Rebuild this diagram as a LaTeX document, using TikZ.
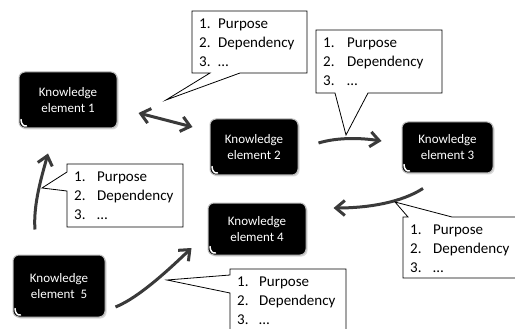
\documentclass[tikz,border=0pt]{standalone}
\usepackage{fontspec}
\setmainfont{Carlito}
\usetikzlibrary{arrows.meta,shadows}
\definecolor{arrowgray}{HTML}{3A3A3A}
\newcommand\plist[1]{\fontsize{15}{19}\selectfont\begin{tabular}[t]{@{}l@{}}\makebox[#1][l]{1.}Purpose\\\makebox[#1][l]{2.}Dependency\\\makebox[#1][l]{3.}…\end{tabular}}
\begin{document}
\begin{tikzpicture}[x=1pt,y=-1pt,
  kebox/.style={draw=gray!55, line width=1pt, fill=black, rounded corners=6pt,
    text=white, align=center, font=\fontsize{13}{16}\selectfont, inner sep=0pt,
    drop shadow={shadow xshift=1.5pt, shadow yshift=-1.5pt, opacity=0.3}},
  callout/.style={draw=black, line width=0.8pt, fill=white, line join=miter},
  ctext/.style={anchor=base west, inner sep=0pt},
  barb/.tip={Straight Barb[length=9pt,width=15pt]},
  conn/.style={draw=arrowgray, line width=3pt, -barb},
  gloss/.style={draw=white, line width=1.5pt, line cap=round},
]
\useasboundingbox (0,0) rectangle (515,329);
\clip (0,0) rectangle (515,329);
\fill[white] (0,0) rectangle (515,329);

% knowledge elements
\node[kebox, minimum width=98pt, minimum height=56pt] (ke1) at (68,100) {Knowledge\\element 1};
\node[kebox, minimum width=88pt, minimum height=56pt] (ke2) at (254,147) {Knowledge\\element 2};
\node[kebox, minimum width=91pt, minimum height=51pt] (ke3) at (447.5,147.5) {Knowledge\\element 3};
\node[kebox, minimum width=98pt, minimum height=52pt] (ke4) at (257,229) {Knowledge\\element 4};
\node[kebox, minimum width=92pt, minimum height=62pt] (ke5) at (59,286) {Knowledge\\element\ \ 5};
\foreach \n in {ke1,ke2,ke3,ke4,ke5}
  \draw[gloss] ([shift={(2.5,-9)}]\n.south west) .. controls +(0,4) and +(-3,1) .. ([shift={(8,-2.5)}]\n.south west);

% connectors
\draw[conn, barb-barb] ([shift={(21,13)}]ke1.east) -- ([shift={(-17,-20)}]ke2.west);
\draw[conn] ([shift={(20,-4)}]ke2.east) .. controls +(20,-6) and +(-20,-3) .. ([shift={(-20,-6.5)}]ke3.west);
\draw[conn] ([shift={(-24.5,15)}]ke3.south) .. controls +(-22,14) and +(35,0) .. ([shift={(27,-21)}]ke4.east);
\draw[conn] ([shift={(-24,-25)}]ke5.north) .. controls +(-2,-25) and +(-6,22) .. ([shift={(-20,25)}]ke1.south);
\draw[conn] ([shift={(10,21)}]ke5.east) .. controls +(25,-10) and +(-18,17) .. ([shift={(-16,19)}]ke4.west);

% callouts
\draw[callout] (192,11) -- (307,11) -- (307,73) -- (240,73) -- (166,100) -- (210,73) -- (192,73) -- cycle;
\draw[callout] (316,30) -- (442,30) -- (442,93) -- (368,93) -- (346,135) -- (335,93) -- (316,93) -- cycle;
\draw[callout] (67,164) -- (183,164) -- (183,227) -- (67,227) -- (67,191) -- (42,188) -- (67,172) -- cycle;
\draw[callout] (230,269) -- (346,269) -- (346,340) -- (230,340) -- (230,293) -- (167,280) -- (230,275) -- cycle;
\draw[callout] (403,217) -- (408,217) -- (395,202) -- (452,217) -- (520,217) -- (520,278) -- (403,278) -- cycle;

\node[ctext] (t1) at (199,28.5) {\plist{19pt}};
\node[ctext] (t2) at (323,47.5) {\plist{24pt}};
\node[ctext] (t3) at (74,181.5) {\plist{23pt}};
\node[ctext] (t4) at (237,286.5) {\plist{22pt}};
\node[ctext] (t5) at (410,234.5) {\plist{23pt}};
\end{tikzpicture}
\end{document}
